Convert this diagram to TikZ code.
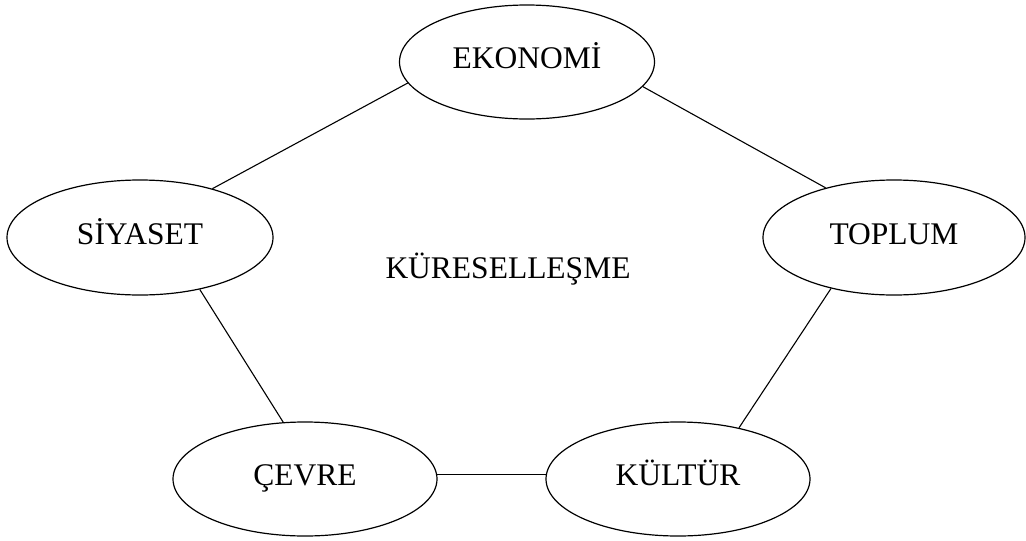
\documentclass[tikz,border=0pt]{standalone}
\usepackage{fontspec}
\setmainfont{Liberation Serif}
\usetikzlibrary{shapes.geometric}
\begin{document}
\begin{tikzpicture}[x=1pt,y=-1pt,
  ell/.style={draw, ellipse, line width=1.2pt, inner sep=0pt,
    font=\fontsize{31.5}{36}\selectfont, text height=21pt, text depth=8pt},
  conn/.style={line width=1.1pt}]
\useasboundingbox (0,0) rectangle (1026,541);
\node[ell, minimum width=255pt, minimum height=114pt] (eko) at (527,62) {EKONOMİ};
\node[ell, minimum width=266pt, minimum height=115pt] (siy) at (140,237.5) {SİYASET};
\node[ell, minimum width=262pt, minimum height=115pt] (top) at (894,237.5) {TOPLUM};
\node[ell, minimum width=264pt, minimum height=114pt] (cev) at (305,479) {ÇEVRE};
\node[ell, minimum width=264pt, minimum height=114pt] (kul) at (678,479) {KÜLTÜR};
\node[inner sep=0pt, font=\fontsize{31.5}{36}\selectfont, text height=21pt, text depth=0pt] (kur) at (508,267.5) {KÜRESELLEŞME};
\draw[conn] (eko.190.9) -- (siy.34.6);
\draw[conn] (eko.348.5) -- (top.144.5);
\draw[conn] (siy.319) -- (cev.111);
\draw[conn] (top.219.8) -- (kul.40.3);
\draw[conn] (cev.2) -- (kul.178);
\end{tikzpicture}
\end{document}
